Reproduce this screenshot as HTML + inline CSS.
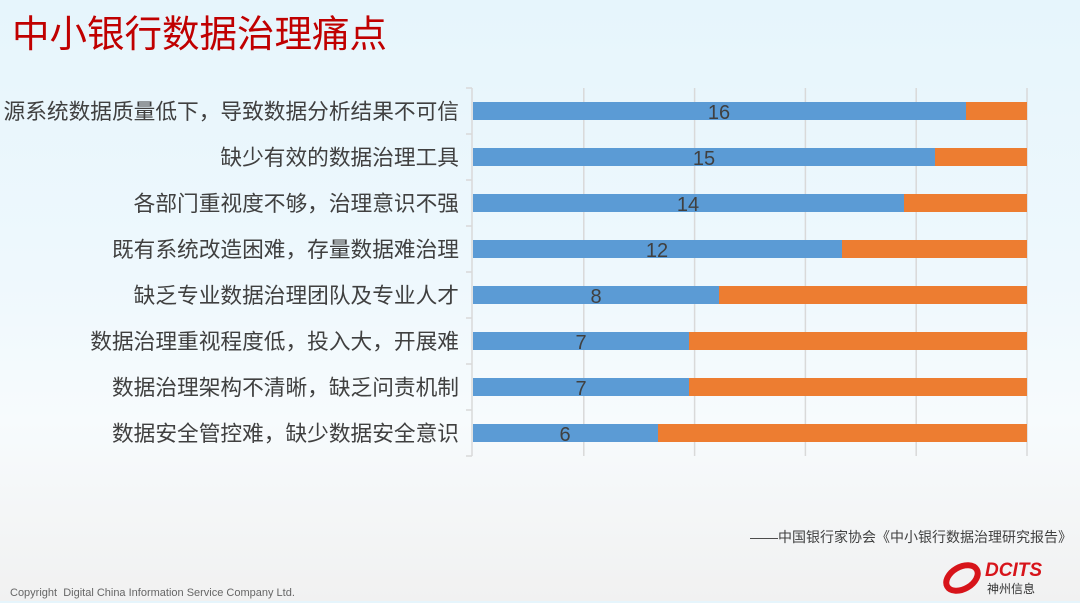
<!DOCTYPE html>
<html><head><meta charset="utf-8"><style>
html,body{margin:0;padding:0}
body{width:1080px;height:601px;overflow:hidden;position:relative;font-family:"Liberation Sans","Noto Sans CJK SC",sans-serif;
background:linear-gradient(180deg,#e6f5fc 0%,#eef8fd 45%,#f7fbfd 70%,#f1f1f1 100%);}
.t{position:absolute;left:12px;top:3px;font-size:37.5px;color:#c00000}
.src{position:absolute;right:8px;top:527px;font-size:14px;color:#404040}
.cp{position:absolute;left:10px;top:587px;font-size:11px;color:#666}
.logo{position:absolute;left:943px;top:558px}
</style></head><body>
<div class="t">中小银行数据治理痛点</div>
<svg width="1080" height="601" style="position:absolute;left:0;top:0" font-family="Liberation Sans, Noto Sans CJK SC, sans-serif">
<g stroke="#d9d9d9" stroke-width="1.5">
<line x1="583.8" y1="88" x2="583.8" y2="456"/><line x1="694.6" y1="88" x2="694.6" y2="456"/>
<line x1="805.4" y1="88" x2="805.4" y2="456"/><line x1="916.2" y1="88" x2="916.2" y2="456"/>
<line x1="1027" y1="88" x2="1027" y2="456"/>
<line x1="472" y1="88" x2="472" y2="456"/>
<line x1="466" y1="88" x2="472" y2="88"/><line x1="466" y1="134" x2="472" y2="134"/><line x1="466" y1="180" x2="472" y2="180"/><line x1="466" y1="226" x2="472" y2="226"/><line x1="466" y1="272" x2="472" y2="272"/><line x1="466" y1="318" x2="472" y2="318"/><line x1="466" y1="364" x2="472" y2="364"/><line x1="466" y1="410" x2="472" y2="410"/><line x1="466" y1="456" x2="472" y2="456"/>
</g>
<g font-size="21.7" fill="#404040" text-anchor="end">
<text x="459" y="119">源系统数据质量低下，导致数据分析结果不可信</text>
<text x="459" y="165">缺少有效的数据治理工具</text>
<text x="459" y="211">各部门重视度不够，治理意识不强</text>
<text x="459" y="257">既有系统改造困难，存量数据难治理</text>
<text x="459" y="303">缺乏专业数据治理团队及专业人才</text>
<text x="459" y="349">数据治理重视程度低，投入大，开展难</text>
<text x="459" y="395">数据治理架构不清晰，缺乏问责机制</text>
<text x="459" y="441">数据安全管控难，缺少数据安全意识</text>
</g>
<g>
<rect x="473" y="102" width="554" height="18" fill="#ed7d31"/><rect x="473" y="102" width="493" height="18" fill="#5b9bd5"/>
<rect x="473" y="148" width="554" height="18" fill="#ed7d31"/><rect x="473" y="148" width="462" height="18" fill="#5b9bd5"/>
<rect x="473" y="194" width="554" height="18" fill="#ed7d31"/><rect x="473" y="194" width="431" height="18" fill="#5b9bd5"/>
<rect x="473" y="240" width="554" height="18" fill="#ed7d31"/><rect x="473" y="240" width="369" height="18" fill="#5b9bd5"/>
<rect x="473" y="286" width="554" height="18" fill="#ed7d31"/><rect x="473" y="286" width="246" height="18" fill="#5b9bd5"/>
<rect x="473" y="332" width="554" height="18" fill="#ed7d31"/><rect x="473" y="332" width="216" height="18" fill="#5b9bd5"/>
<rect x="473" y="378" width="554" height="18" fill="#ed7d31"/><rect x="473" y="378" width="216" height="18" fill="#5b9bd5"/>
<rect x="473" y="424" width="554" height="18" fill="#ed7d31"/><rect x="473" y="424" width="185" height="18" fill="#5b9bd5"/>
</g>
<g font-size="20" fill="#404040" text-anchor="middle">
<text x="719" y="119">16</text><text x="704" y="165">15</text><text x="688" y="211">14</text><text x="657" y="257">12</text>
<text x="596" y="303">8</text><text x="581" y="349">7</text><text x="581" y="395">7</text><text x="565" y="441">6</text>
</g>
</svg>
<div class="src">——中国银行家协会《中小银行数据治理研究报告》</div>
<div class="cp">Copyright&nbsp; Digital China Information Service Company Ltd.</div>
<div class="logo">
<svg width="115" height="40"><ellipse cx="19" cy="20" rx="17" ry="11" fill="none" stroke="#d7141a" stroke-width="6" transform="rotate(-30 19 20)"/>
<text x="42" y="18" font-size="19" font-weight="bold" font-style="italic" fill="#d7141a" font-family="Liberation Sans">DCITS</text>
<text x="44" y="35" font-size="12" fill="#333" font-family="Noto Sans CJK SC">神州信息</text></svg>
</div>
</body></html>
